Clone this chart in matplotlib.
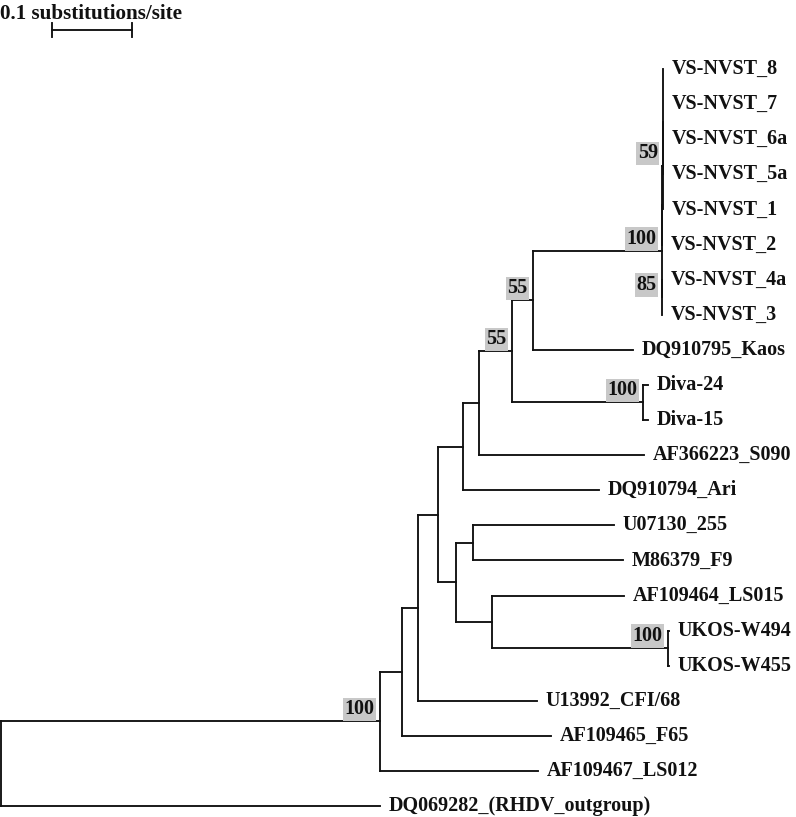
import matplotlib.pyplot as plt
from matplotlib.collections import LineCollection

plt.rcParams['font.family'] = ['Liberation Serif', 'DejaVu Serif']
plt.rcParams['font.weight'] = 'bold'

# tree as parallel lists: node name, parent, branch length (subs/site), bootstrap
names = ['root', 'n380', 'n403', 'n419', 'n438', 'n463', 'n479', 'n512', 'n533', 'nVS', 'nA', 'n59', 'nP',
         'VS-NVST_8', 'VS-NVST_7', 'VS-NVST_6a', 'VS-NVST_5a', 'VS-NVST_1', 'VS-NVST_2', 'n85',
         'VS-NVST_4a', 'VS-NVST_3', 'DQ910795_Kaos', 'nDiva', 'Diva-24', 'Diva-15', 'AF366223_S090',
         'DQ910794_Ari', 'n456', 'n473', 'U07130_255', 'M86379_F9', 'n492', 'AF109464_LS015', 'nUKOS',
         'UKOS-W494', 'UKOS-W455', 'U13992_CFI/68', 'AF109465_F65', 'AF109467_LS012',
         'DQ069282_(RHDV_outgroup)']
parents = [None, 'root', 'n380', 'n403', 'n419', 'n438', 'n463', 'n479', 'n512', 'n533', 'nVS', 'nA', 'n59',
           'nP', 'nP', 'nP', 'nP', 'n59', 'nA', 'nVS',
           'n85', 'n85', 'n533', 'n512', 'nDiva', 'nDiva', 'n479',
           'n463', 'n438', 'n456', 'n473', 'n473', 'n456', 'n492', 'n492',
           'nUKOS', 'nUKOS', 'n419', 'n403', 'n380',
           'root']
lengths = [0.0, 0.4744, 0.0281, 0.0200, 0.0238, 0.0319, 0.0200, 0.0413, 0.0263, 0.1613, 0.0, 0.0015, 0.0,
           0.0, 0.0, 0.0, 0.0, 0.0, 0.0, 0.0,
           0.0, 0.0, 0.1250, 0.1638, 0.0063, 0.0063, 0.2063,
           0.1700, 0.0231, 0.0213, 0.1763, 0.1875, 0.0450, 0.1650, 0.2200,
           0.0013, 0.0013, 0.1481, 0.1856, 0.1975,
           0.4750]
support = {'n380': '100', 'n512': '55', 'n533': '55', 'nVS': '100', 'n59': '59',
           'n85': '85', 'nDiva': '100', 'nUKOS': '100'}

children = {n: [] for n in names}
for n, p in zip(names, parents):
    if p is not None:
        children[p].append(n)
blen = dict(zip(names, lengths))

# layout: x = distance from root, y = leaf order
xpos, ypos = {}, {}
leaf_count = [0]


def layout(node, x0):
    xpos[node] = x0 + blen[node]
    kids = children[node]
    if not kids:
        ypos[node] = leaf_count[0]
        leaf_count[0] += 1
        return
    for k in kids:
        layout(k, xpos[node])
    ypos[node] = (ypos[kids[0]] + ypos[kids[-1]]) / 2.0


layout('root', 0.0)

fig = plt.figure(figsize=(7.96, 8.17), dpi=100)
ax = fig.add_axes([0, 0, 1, 1])
px = 800.0   # pixels per unit
row = 35.1   # pixels per leaf
ax.set_xlim(-0.5 / px, 795.5 / px)
ax.set_ylim((817 - 69) / row, -69 / row)
ax.axis('off')

ink = '#111111'
lw = 1.35

segs = []
for n, p in zip(names, parents):
    if p is not None:
        segs.append([(xpos[p], ypos[n]), (xpos[n], ypos[n])])
    kids = children[n]
    if kids:
        segs.append([(xpos[n], ypos[kids[0]]), (xpos[n], ypos[kids[-1]])])
ax.add_collection(LineCollection(segs, colors=ink, linewidths=lw, capstyle='projecting'))

for n in names:
    if not children[n]:
        ax.annotate(n, xy=(xpos[n], ypos[n]), xytext=(6, 0), textcoords='offset points',
                    ha='left', va='center', fontsize=14.5, fontweight='bold', color=ink)
    elif n in support:
        ax.annotate(support[n], xy=(xpos[n], ypos[n]), xytext=(-4, 1.5), textcoords='offset points',
                    ha='right', va='bottom', fontsize=14.5, fontweight='bold', color=ink,
                    bbox=dict(boxstyle='square,pad=0.08', fc='#c8c8c8', ec='none'))

# scale bar
sb_x, sb_len, sb_y, tick = 0.0644, 0.1, -1.11, 0.2
ax.plot([sb_x, sb_x + sb_len], [sb_y, sb_y], color=ink, lw=lw)
ax.plot([sb_x, sb_x], [sb_y - tick, sb_y + tick], color=ink, lw=lw)
ax.plot([sb_x + sb_len, sb_x + sb_len], [sb_y - tick, sb_y + tick], color=ink, lw=lw)
ax.text(0.0, -1.57, '0.1 substitutions/site', ha='left', va='center', fontsize=15.2,
        fontweight='bold', color=ink)

fig.savefig('out.png', dpi=100)
